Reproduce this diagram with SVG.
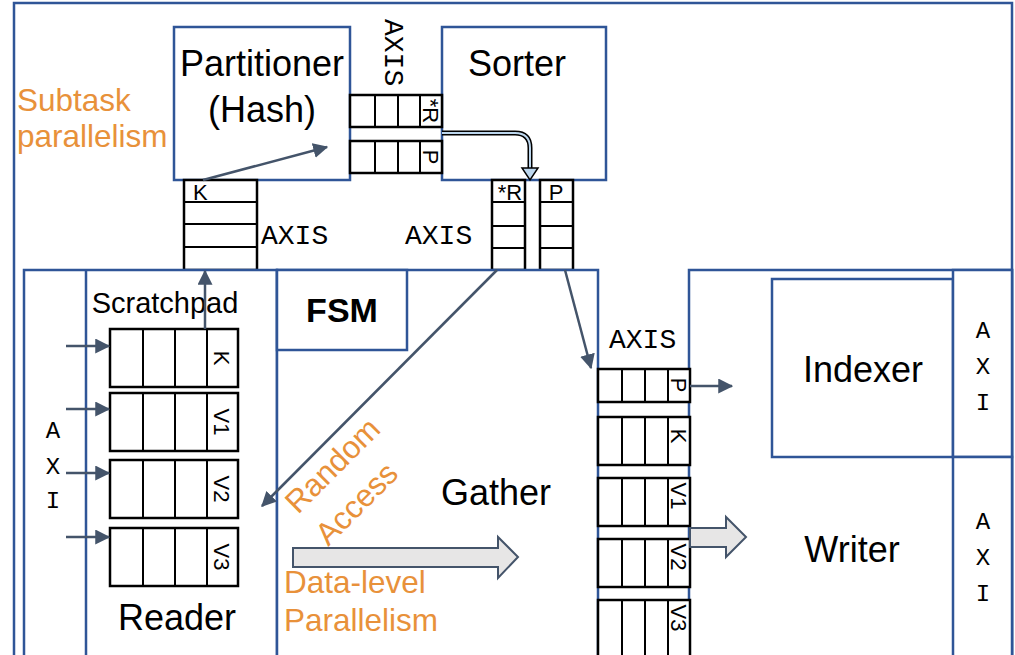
<svg xmlns="http://www.w3.org/2000/svg" width="1015" height="655" viewBox="0 0 1015 655">
  <style>
    .frame { fill: #ffffff; stroke: #2f5597; stroke-width: 2.5; }
    .cell { fill: #ffffff; stroke: #000000; stroke-width: 2.5; }
    .div { stroke: #000000; stroke-width: 2; }
    .conn { fill: none; stroke: #44546a; stroke-width: 2.5; }
    .lbl { font-family: "Liberation Sans", Arial, sans-serif; fill: #000000; }
    .big { font-size: 36px; }
    .q { font-size: 22px; }
    .mono { font-family: "Liberation Mono", "Courier New", monospace; font-size: 28px; fill: #000000; }
    .axi { font-family: "Liberation Mono", "Courier New", monospace; font-size: 24px; fill: #000000; text-anchor: middle; }
    .note { font-family: "Liberation Sans", Arial, sans-serif; font-size: 31.5px; fill: #e8913a; }
    .block { fill: #e7e6e6; stroke: #44546a; stroke-width: 2; }
  </style>
  <defs>
    <marker id="ah" viewBox="0 0 12 12" refX="11" refY="6" markerWidth="6" markerHeight="6" markerUnits="strokeWidth" orient="auto">
      <path d="M0,0 L12,6 L0,12 z" fill="#44546a"/>
    </marker>
  </defs>

  <rect width="1015" height="655" fill="#ffffff"/>

  <!-- outer system frame -->
  <rect class="frame" x="14" y="3" width="998" height="680"/>

  <!-- Partitioner -->
  <g id="partitioner">
    <rect class="frame" x="174" y="27" width="176" height="153"/>
    <text class="lbl big" x="262" y="76" text-anchor="middle">Partitioner</text>
    <text class="lbl big" x="262" y="122" text-anchor="middle">(Hash)</text>
  </g>

  <!-- Sorter -->
  <g id="sorter">
    <rect class="frame" x="442" y="27" width="164" height="153"/>
    <text class="lbl big" x="517" y="76" text-anchor="middle">Sorter</text>
  </g>

  <!-- Partitioner -> Sorter AXIS queues -->
  <g id="queue-part-r">
    <rect class="cell" x="350" y="95" width="92" height="32"/>
    <line class="div" x1="375" y1="95" x2="375" y2="127"/>
    <line class="div" x1="398" y1="95" x2="398" y2="127"/>
    <line class="div" x1="420" y1="95" x2="420" y2="127"/>
    <text class="lbl q" transform="translate(431,111) rotate(90)" y="8" text-anchor="middle">*R</text>
  </g>
  <g id="queue-part-p">
    <rect class="cell" x="350" y="141" width="92" height="32"/>
    <line class="div" x1="375" y1="141" x2="375" y2="173"/>
    <line class="div" x1="398" y1="141" x2="398" y2="173"/>
    <line class="div" x1="420" y1="141" x2="420" y2="173"/>
    <text class="lbl q" transform="translate(431,157) rotate(90)" y="8" text-anchor="middle">P</text>
  </g>
  <text class="mono" transform="translate(385,19) rotate(90)">AXIS</text>

  <!-- Partitioner K input queue -->
  <g id="queue-part-k">
    <rect class="cell" x="184" y="180" width="73" height="90"/>
    <line class="div" x1="184" y1="202" x2="257" y2="202"/>
    <line class="div" x1="184" y1="224" x2="257" y2="224"/>
    <line class="div" x1="184" y1="247" x2="257" y2="247"/>
    <text class="lbl q" x="193" y="200">K</text>
  </g>
  <text class="mono" x="261" y="244">AXIS</text>
  <text class="mono" x="405" y="244">AXIS</text>

  <!-- Sorter output queues -->
  <g id="queue-sort-r">
    <rect class="cell" x="492" y="180" width="33" height="90"/>
    <line class="div" x1="492" y1="202" x2="525" y2="202"/>
    <line class="div" x1="492" y1="226" x2="525" y2="226"/>
    <line class="div" x1="492" y1="248" x2="525" y2="248"/>
    <text class="lbl q" x="510" y="200" text-anchor="middle">*R</text>
  </g>
  <g id="queue-sort-p">
    <rect class="cell" x="540" y="180" width="33" height="90"/>
    <line class="div" x1="540" y1="202" x2="573" y2="202"/>
    <line class="div" x1="540" y1="226" x2="573" y2="226"/>
    <line class="div" x1="540" y1="248" x2="573" y2="248"/>
    <text class="lbl q" x="556" y="200" text-anchor="middle">P</text>
  </g>

  <!-- Reader / Gather frame -->
  <g id="reader">
    <rect class="frame" x="24" y="270" width="253" height="410"/>
    <line x1="86" y1="270" x2="86" y2="655" stroke="#2f5597" stroke-width="2.5"/>
    <text class="axi" x="53" y="438">A</text>
    <text class="axi" x="53" y="474">X</text>
    <text class="axi" x="53" y="508">I</text>
    <text class="lbl" x="165" y="313" font-size="29" text-anchor="middle">Scratchpad</text>
    <text class="lbl big" x="177" y="630" text-anchor="middle">Reader</text>
  </g>
  <g id="gather">
    <rect class="frame" x="277" y="270" width="321" height="410"/>
    <text class="lbl big" x="496" y="505" text-anchor="middle">Gather</text>
  </g>
  <g id="fsm">
    <rect class="frame" x="277" y="270" width="130" height="80"/>
    <text class="lbl" x="342" y="322" font-size="34" font-weight="bold" text-anchor="middle">FSM</text>
  </g>

  <!-- Scratchpad queues -->
  <g id="spad-k">
    <rect class="cell" x="110" y="329" width="128" height="58"/>
    <line class="div" x1="143" y1="329" x2="143" y2="387"/>
    <line class="div" x1="175" y1="329" x2="175" y2="387"/>
    <line class="div" x1="207" y1="329" x2="207" y2="387"/>
    <text class="lbl q" transform="translate(222,358) rotate(90)" y="8" text-anchor="middle">K</text>
  </g>
  <g id="spad-v1">
    <rect class="cell" x="110" y="393" width="128" height="58"/>
    <line class="div" x1="143" y1="393" x2="143" y2="451"/>
    <line class="div" x1="175" y1="393" x2="175" y2="451"/>
    <line class="div" x1="207" y1="393" x2="207" y2="451"/>
    <text class="lbl q" transform="translate(222,422) rotate(90)" y="8" text-anchor="middle">V1</text>
  </g>
  <g id="spad-v2">
    <rect class="cell" x="110" y="460" width="128" height="58"/>
    <line class="div" x1="143" y1="460" x2="143" y2="518"/>
    <line class="div" x1="175" y1="460" x2="175" y2="518"/>
    <line class="div" x1="207" y1="460" x2="207" y2="518"/>
    <text class="lbl q" transform="translate(222,489) rotate(90)" y="8" text-anchor="middle">V2</text>
  </g>
  <g id="spad-v3">
    <rect class="cell" x="110" y="528" width="128" height="58"/>
    <line class="div" x1="143" y1="528" x2="143" y2="586"/>
    <line class="div" x1="175" y1="528" x2="175" y2="586"/>
    <line class="div" x1="207" y1="528" x2="207" y2="586"/>
    <text class="lbl q" transform="translate(222,557) rotate(90)" y="8" text-anchor="middle">V3</text>
  </g>

  <!-- Indexer / Writer frame -->
  <g id="writer">
    <rect class="frame" x="689" y="270" width="323" height="410"/>
    <text class="lbl big" x="852" y="562" text-anchor="middle">Writer</text>
  </g>
  <g id="indexer">
    <rect class="frame" x="772" y="279" width="181" height="178"/>
    <text class="lbl big" x="863" y="382" text-anchor="middle">Indexer</text>
  </g>
  <g id="axi-indexer">
    <rect class="frame" x="953" y="270" width="59" height="187"/>
    <text class="axi" x="983" y="338">A</text>
    <text class="axi" x="983" y="374">X</text>
    <text class="axi" x="983" y="410">I</text>
  </g>
  <g id="axi-writer">
    <rect class="frame" x="953" y="457" width="59" height="220"/>
    <text class="axi" x="983" y="529">A</text>
    <text class="axi" x="983" y="565">X</text>
    <text class="axi" x="983" y="601">I</text>
  </g>

  <!-- Gather output queues -->
  <text class="mono" x="609" y="348">AXIS</text>
  <g id="gq-p">
    <rect class="cell" x="598" y="369" width="92" height="33"/>
    <line class="div" x1="622" y1="369" x2="622" y2="402"/>
    <line class="div" x1="645" y1="369" x2="645" y2="402"/>
    <line class="div" x1="668" y1="369" x2="668" y2="402"/>
    <text class="lbl q" transform="translate(679,385) rotate(90)" y="8" text-anchor="middle">P</text>
  </g>
  <g id="gq-k">
    <rect class="cell" x="598" y="417" width="92" height="48"/>
    <line class="div" x1="622" y1="417" x2="622" y2="465"/>
    <line class="div" x1="645" y1="417" x2="645" y2="465"/>
    <line class="div" x1="668" y1="417" x2="668" y2="465"/>
    <text class="lbl q" transform="translate(679,436) rotate(90)" y="8" text-anchor="middle">K</text>
  </g>
  <g id="gq-v1">
    <rect class="cell" x="598" y="478" width="92" height="48"/>
    <line class="div" x1="622" y1="478" x2="622" y2="526"/>
    <line class="div" x1="645" y1="478" x2="645" y2="526"/>
    <line class="div" x1="668" y1="478" x2="668" y2="526"/>
    <text class="lbl q" transform="translate(679,496) rotate(90)" y="8" text-anchor="middle">V1</text>
  </g>
  <g id="gq-v2">
    <rect class="cell" x="598" y="539" width="92" height="48"/>
    <line class="div" x1="622" y1="539" x2="622" y2="587"/>
    <line class="div" x1="645" y1="539" x2="645" y2="587"/>
    <line class="div" x1="668" y1="539" x2="668" y2="587"/>
    <text class="lbl q" transform="translate(679,557) rotate(90)" y="8" text-anchor="middle">V2</text>
  </g>
  <g id="gq-v3">
    <rect class="cell" x="598" y="600" width="92" height="70"/>
    <line class="div" x1="622" y1="600" x2="622" y2="670"/>
    <line class="div" x1="645" y1="600" x2="645" y2="670"/>
    <line class="div" x1="668" y1="600" x2="668" y2="670"/>
    <text class="lbl q" transform="translate(679,618) rotate(90)" y="8" text-anchor="middle">V3</text>
  </g>

  <!-- annotations -->
  <text class="note" x="17" y="111">Subtask</text>
  <text class="note" x="17" y="147">parallelism</text>
  <text class="note" x="284" y="593">Data-level</text>
  <text class="note" x="284" y="631">Parallelism</text>
  <g transform="translate(340,473) rotate(-45)">
    <text class="note" x="0" y="0" text-anchor="middle">Random</text>
    <text class="note" x="-10" y="44" text-anchor="middle">Access</text>
  </g>

  <!-- connectors -->
  <g id="connectors">
    <line class="conn" x1="203" y1="180" x2="327" y2="147" marker-end="url(#ah)"/>
    <line class="conn" x1="205" y1="329" x2="205" y2="271" marker-end="url(#ah)"/>
    <line class="conn" x1="66" y1="346" x2="109" y2="346" marker-end="url(#ah)"/>
    <line class="conn" x1="66" y1="409" x2="109" y2="409" marker-end="url(#ah)"/>
    <line class="conn" x1="66" y1="473" x2="109" y2="473" marker-end="url(#ah)"/>
    <line class="conn" x1="66" y1="537" x2="109" y2="537" marker-end="url(#ah)"/>
    <line class="conn" x1="497" y1="270" x2="262" y2="506" marker-end="url(#ah)"/>
    <line class="conn" x1="565" y1="270" x2="591" y2="368" marker-end="url(#ah)"/>
    <line class="conn" x1="690" y1="386" x2="732" y2="386" marker-end="url(#ah)"/>
    <!-- hollow routed arrow: *R queue into Sorter's output -->
    <path d="M442,133 H515 Q530,133 530,148 V169" fill="none" stroke="#000000" stroke-width="5"/>
    <path d="M442,133 H515 Q530,133 530,148 V170" fill="none" stroke="#bdd7ee" stroke-width="2"/>
    <polygon points="522,168 538,168 530,180" fill="#bdd7ee" stroke="#000000" stroke-width="1.5"/>
    <!-- block arrows -->
    <polygon class="block" points="293,548 498,548 498,537 518,557 498,578 498,567 293,567"/>
    <polygon class="block" points="690,528 726,528 726,517 746,537 726,557 726,547 690,547"/>
  </g>
</svg>
